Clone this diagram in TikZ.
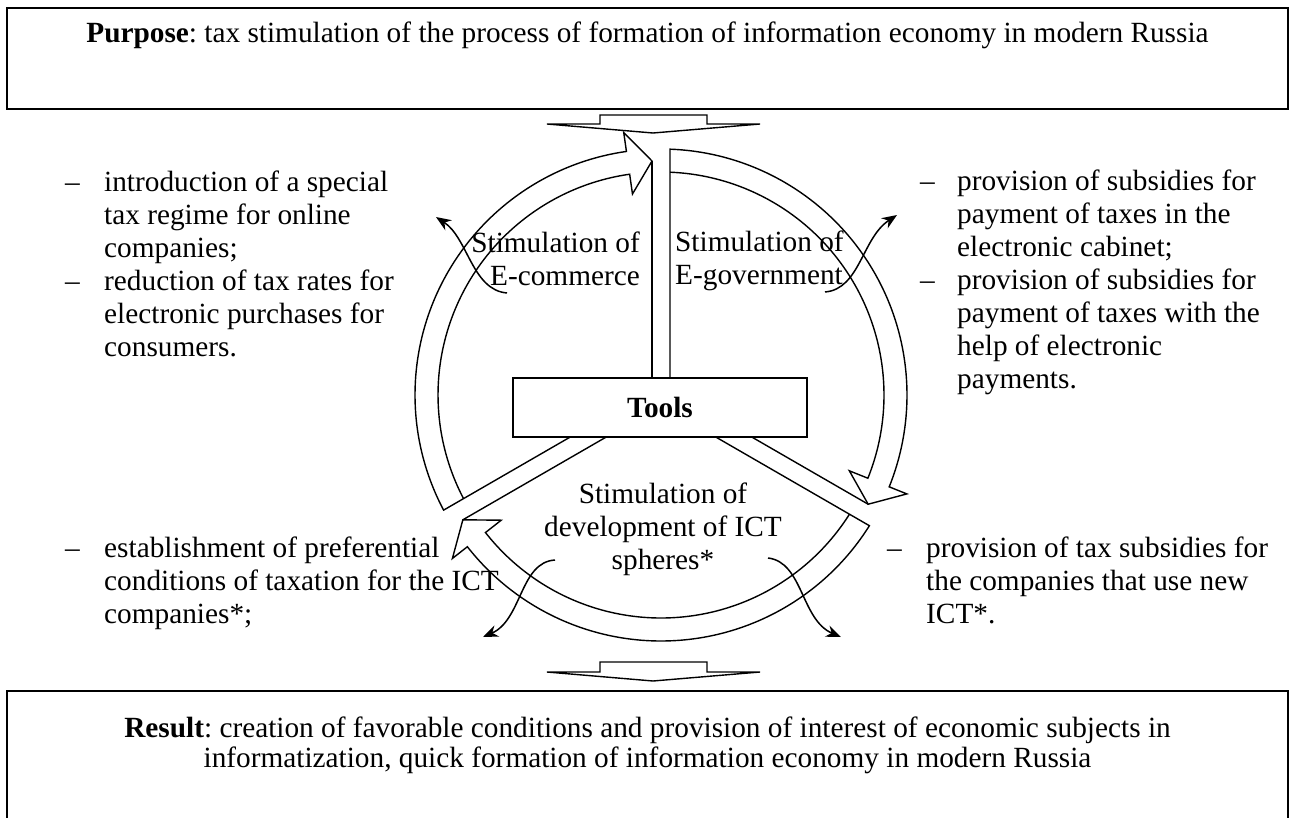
\documentclass[tikz,border=0pt]{standalone}
\usepackage{fontspec}
\setmainfont{Liberation Serif}
\usetikzlibrary{calc,arrows.meta}
\newcommand\myfs{\fontsize{29.3}{33}\selectfont\frenchspacing}
\begin{document}
\begin{tikzpicture}[x=1pt,y=1pt,
  shapeline/.style={line width=1.4pt, line join=miter},
  boxline/.style={draw, line width=2pt, inner sep=0pt},
  txt/.style={inner sep=0pt, font=\myfs},
  smallarrow/.style={line width=1.5pt, -{Stealth[length=15pt,width=12pt]}}]
\useasboundingbox (0,0) rectangle (1291,-817);
\coordinate (C) at (661,-395);

% frames
\node[boxline, minimum width=1281pt, minimum height=101pt] (purposebox) at (647.5,-58.5) {};
\node[boxline, minimum width=1281pt, minimum height=160pt, anchor=north] (resultbox) at (647.5,-690) {};

% flat block arrows
\draw[shapeline] (600,-115) -- (707,-115) -- (707,-124) -- (760,-124) -- (653,-133) -- (547,-124) -- (600,-124) -- cycle;
\draw[shapeline] (600,-662) -- (707,-662) -- (707,-672) -- (760,-672) -- (653,-681) -- (547,-672) -- (600,-672) -- cycle;

% three cyclic arrows
\foreach \t in {90,-30,-150} {
  \pgfmathsetmacro\so{\t-2.097}
  \pgfmathsetmacro\si{\t-2.313}
  \pgfmathsetmacro\se{\t-120+8.08}
  \draw[shapeline] ($(C)+(\t-90:9)$) -- ($(C)+(\so:246)$)
     arc[start angle=\so, end angle=\se, radius=246]
     -- ($(C)+(\se:265)$) -- ($(C)+(\t-120:234)+(\t-30:9)$) -- ($(C)+(\se:203)$)
     -- ($(C)+(\se:223)$) arc[start angle=\se, end angle=\si, radius=223];
  \draw[shapeline] ($(C)+(\t+90:9)$) -- ($(C)+(\t:234)+(\t+90:9)$);
}

\node[draw, fill=white, line width=1.6pt, inner sep=0pt, minimum width=294pt, minimum height=59pt, font=\myfs\bfseries] (tools) at (660,-407.5) {Tools};

% labels inside circle
\node[txt, anchor=base east] (ecom) at (640,-252) {\begin{tabular}[t]{@{}r@{}}Stimulation of\\E-commerce\end{tabular}};
\node[txt, anchor=base west] (egov) at (675,-251) {\begin{tabular}[t]{@{}l@{}}Stimulation of\\E-government\end{tabular}};
\node[txt, anchor=base] (ict) at (663,-503) {\begin{tabular}[t]{@{}c@{}}Stimulation of\\development of ICT\\spheres*\end{tabular}};

% main texts
\node[txt, anchor=base] (purpose) at (647.5,-42) {\textbf{Purpose}: tax stimulation of the process of formation of information economy in modern Russia};
\node[txt, anchor=base] (result) at (647.5,-737) {\fontsize{29.3}{30}\selectfont\begin{tabular}[t]{@{}c@{}}\textbf{Result}: creation of favorable conditions and provision of interest of economic subjects in\\informatization, quick formation of information economy in modern Russia\end{tabular}};

% bullet lists
\node[txt, anchor=base west] (ltop) at (65,-191) {\begin{tabular}[t]{@{}p{39pt}@{}l@{}}--&introduction of a special\\&tax regime for online\\&companies;\\--&reduction of tax rates for\\&electronic purchases for\\&consumers.\end{tabular}};
\node[txt, anchor=base west] (rtop) at (920,-190) {\begin{tabular}[t]{@{}p{37pt}@{}l@{}}--&provision of subsidies for\\&payment of taxes in the\\&electronic cabinet;\\--&provision of subsidies for\\&payment of taxes with the\\&help of electronic\\&payments.\end{tabular}};
\node[txt, anchor=base west] (lbot) at (65,-557) {\begin{tabular}[t]{@{}p{39pt}@{}l@{}}--&establishment of preferential\\&conditions of taxation for the ICT\\&companies*;\end{tabular}};
\node[txt, anchor=base west] (rbot) at (887,-557) {\begin{tabular}[t]{@{}p{39pt}@{}l@{}}--&provision of tax subsidies for\\&the companies that use new\\&ICT*.\end{tabular}};

% small curved arrows
\draw[smallarrow] (507,-293) .. controls (472,-290) and (468,-238) .. (436,-217);
\draw[smallarrow] (825,-292) .. controls (860,-289) and (862,-238) .. (897,-215);
\draw[smallarrow] (555,-560) .. controls (520,-562) and (522,-620) .. (483,-637);
\draw[smallarrow] (768,-558) .. controls (803,-562) and (801,-620) .. (841,-637);
\end{tikzpicture}
\end{document}
